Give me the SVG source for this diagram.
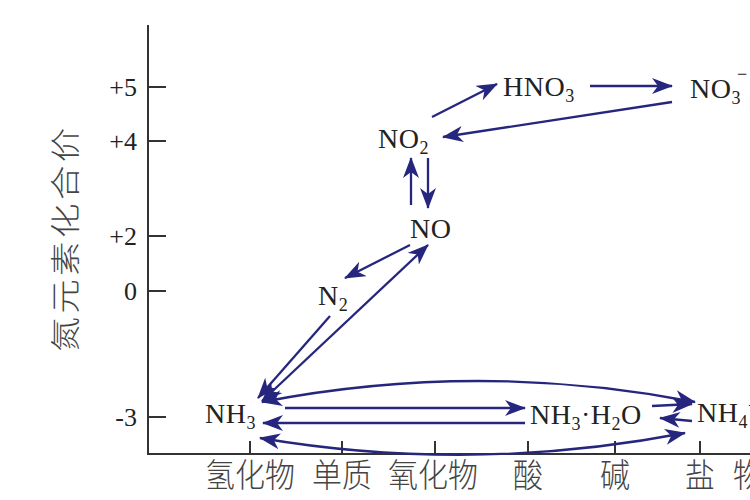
<svg xmlns="http://www.w3.org/2000/svg" width="750" height="500" viewBox="0 0 750 500">
<style>
.f{font-family:"Liberation Serif","Times New Roman",serif;fill:#222;font-size:28px;letter-spacing:0.5px}
.sub{font-size:18px}
.num{font-family:"Liberation Serif","Times New Roman",serif;fill:#222;font-size:26px;text-anchor:end}
.cn{font-family:"Noto Sans CJK SC","Liberation Serif",sans-serif;fill:#444;font-size:30px;font-weight:300}
.ax{stroke:#333;stroke-width:2;fill:none}
.c{stroke:#26267e;stroke-width:2.3;fill:none}
.e{marker-end:url(#ah)}
.s{marker-start:url(#ahs)}
</style>
<defs>
<marker id="ah" markerUnits="userSpaceOnUse" markerWidth="24" markerHeight="18" refX="20" refY="8" orient="auto">
<path d="M0,0 L21,8 L0,16 L6,8 z" fill="#26267e"/>
</marker>
<marker id="ahs" markerUnits="userSpaceOnUse" markerWidth="24" markerHeight="18" refX="20" refY="8" orient="auto-start-reverse">
<path d="M0,0 L21,8 L0,16 L6,8 z" fill="#26267e"/>
</marker>
</defs>
<g id="axes">
<path class="ax" d="M148,25 V454 H750"/>
<path class="ax" d="M148,87 H166 M148,141 H166 M148,236 H166 M148,291 H166 M148,417 H166"/>
<path class="ax" d="M250,454 V441 M342,454 V441 M435,454 V441 M528,454 V441 M615,454 V441 M700,454 V441"/>
<text class="num" x="137" y="96">+5</text>
<text class="num" x="137" y="150">+4</text>
<text class="num" x="137" y="245">+2</text>
<text class="num" x="137" y="300">0</text>
<text class="num" x="137" y="426">-3</text>
<text class="cn" transform="translate(76,238) rotate(-90) scale(1.15,1)" text-anchor="middle" letter-spacing="3">氮元素化合价</text>
<g transform="translate(0,487) scale(1,1.1)">
<text class="cn" x="250" y="0" text-anchor="middle">氢化物</text>
<text class="cn" x="342" y="0" text-anchor="middle">单质</text>
<text class="cn" x="433" y="0" text-anchor="middle">氧化物</text>
<text class="cn" x="528" y="0" text-anchor="middle">酸</text>
<text class="cn" x="615" y="0" text-anchor="middle">碱</text>
<text class="cn" x="700" y="0" text-anchor="middle">盐</text>
<text class="cn" x="733" y="0">物质类别</text>
</g>
</g>
<g id="connectors">
<path class="c e" d="M432,117 L497,84"/>
<path class="c e" d="M590,86 L672,86"/>
<path class="c e" d="M672,102 L443,137"/>
<path class="c e" d="M411,205 L411,158"/>
<path class="c e" d="M428,158 L428,208"/>
<path class="c e" d="M410,245 L345,278"/>
<path class="c e" d="M330,316 L258,398"/>
<path class="c e s" d="M262,401 L428,245"/>
<path class="c e" d="M285,408 L525,408"/>
<path class="c e" d="M525,423 L263,423"/>
<path class="c e s" d="M262,402 Q478,360 695,402"/>
<path class="c e s" d="M260,438 Q472,474 685,433"/>
<path class="c e" d="M652,406 L692,404"/>
<path class="c e" d="M692,421 L660,418"/>
</g>
<g id="node-HNO3"><text class="f" x="503" y="96">HNO<tspan class="sub" dy="6">3</tspan></text></g>
<g id="node-NO3"><text class="f" x="690" y="98">NO<tspan class="sub" dy="6">3</tspan></text><text class="f sub" x="737" y="80">−</text></g>
<g id="node-NO2"><text class="f" x="378" y="148">NO<tspan class="sub" dy="6">2</tspan></text></g>
<g id="node-NO"><text class="f" x="410" y="238">NO</text></g>
<g id="node-N2"><text class="f" x="318" y="305">N<tspan class="sub" dy="6">2</tspan></text></g>
<g id="node-NH3"><text class="f" x="205" y="423">NH<tspan class="sub" dy="6">3</tspan></text></g>
<g id="node-NH3H2O"><text class="f" x="530" y="424">NH<tspan class="sub" dy="6">3</tspan><tspan dy="-6">·H</tspan><tspan class="sub" dy="6">2</tspan><tspan dy="-6">O</tspan></text></g>
<g id="node-NH4"><text class="f" x="697" y="422">NH<tspan class="sub" dy="6">4</tspan><tspan class="sub" dy="-16">+</tspan></text></g>
</svg>
